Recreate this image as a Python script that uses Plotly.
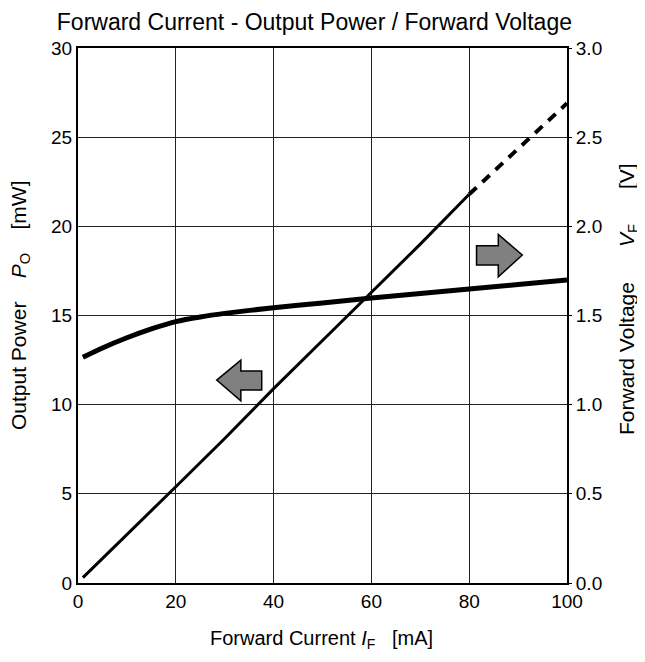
import plotly.graph_objects as go

# Data
current_solid = [1, 10, 20, 30, 40, 50, 60, 70, 80]
power_solid = [0.3, 2.7, 5.4, 8.1, 10.9, 13.6, 16.3, 19.0, 21.8]
current_dash = [80, 90, 100]
power_dash = [21.8, 24.35, 26.9]
current_v = [1, 5, 10, 15, 20, 25, 30, 40, 50, 60, 70, 80, 90, 100]
voltage = [1.266, 1.318, 1.375, 1.425, 1.466, 1.492, 1.512, 1.544, 1.570, 1.598, 1.624, 1.649, 1.674, 1.699]

x_ticks = [0, 20, 40, 60, 80, 100]
y_ticks = [0, 5, 10, 15, 20, 25, 30]
y2_ticks = [0.0, 0.5, 1.0, 1.5, 2.0, 2.5, 3.0]

FONT = "Liberation Sans, Arial, sans-serif"
SP = "&nbsp;"

fig = go.Figure()
fig.add_trace(go.Scatter(x=current_solid, y=power_solid, mode="lines",
                         line=dict(color="black", width=3), showlegend=False))
fig.add_trace(go.Scatter(x=current_dash, y=power_dash, mode="lines",
                         line=dict(color="black", width=4, dash="10px,8px"), showlegend=False))
fig.add_trace(go.Scatter(x=current_v, y=voltage, mode="lines", yaxis="y2",
                         line=dict(color="black", width=5, shape="spline", smoothing=0.6),
                         showlegend=False))

# Arrows (annotation shapes)
left_arrow = "M 28.36 11.38 L 33.3 12.5 L 33.3 11.89 L 37.57 11.89 L 37.57 10.82 L 33.3 10.82 L 33.3 10.21 Z"
right_arrow = "M 90.86 18.39 L 85.95 19.55 L 85.95 18.91 L 81.5 18.91 L 81.5 17.83 L 85.95 17.83 L 85.95 17.17 Z"
for p in (left_arrow, right_arrow):
    fig.add_shape(type="path", path=p, xref="x", yref="y",
                  fillcolor="#808080", line=dict(color="black", width=1.5))

# Axis titles as annotations
fig.add_annotation(text="Forward Current" + SP + "<i>I</i><sub>F</sub>" + SP * 3 + "[mA]",
                   xref="paper", yref="paper", x=0.497, y=-0.1065,
                   xanchor="center", yanchor="middle", showarrow=False,
                   font=dict(family=FONT, size=20, color="black"))
fig.add_annotation(text="Output Power" + SP * 4 + "<i>P</i><sub>O</sub>" + SP * 4 + "[mW]",
                   xref="paper", yref="paper", x=-0.1186, y=0.5196, textangle=-90,
                   xanchor="center", yanchor="middle", showarrow=False,
                   font=dict(family=FONT, size=21, color="black"))
fig.add_annotation(text="Forward Voltage" + SP * 6 + "<i>V</i><sub>F</sub>" + SP * 6 + "[V]",
                   xref="paper", yref="paper", x=1.1247, y=0.5308, textangle=-90,
                   xanchor="center", yanchor="middle", showarrow=False,
                   font=dict(family=FONT, size=21, color="black"))

fig.update_layout(
    width=637, height=654,
    margin=dict(l=70, r=78, t=40, b=79, autoexpand=False),
    paper_bgcolor="white", plot_bgcolor="white",
    font=dict(family=FONT, size=19, color="black"),
    title=dict(text="Forward Current - Output Power" + SP + "/" + SP + "Forward Voltage",
               x=0.481, xanchor="center", y=0.9786, yanchor="middle", automargin=False,
               font=dict(family=FONT, size=23, color="black")),
    xaxis=dict(range=[0, 100], tickvals=x_ticks, ticktext=[str(v) for v in x_ticks],
               showgrid=True, gridcolor="#222222", gridwidth=1,
               showline=True, linecolor="black", linewidth=2, mirror=True,
               ticks="", zeroline=False, automargin=False,
               tickfont=dict(size=19)),
    yaxis=dict(range=[0, 30], tickvals=y_ticks, ticktext=[str(v) for v in y_ticks],
               showgrid=True, gridcolor="#222222", gridwidth=1,
               showline=True, linecolor="black", linewidth=2, mirror=True,
               ticks="", zeroline=False, automargin=False,
               tickfont=dict(size=19)),
    yaxis2=dict(range=[0, 3], overlaying="y", side="right",
                tickvals=y2_ticks, ticktext=[f"{v:.1f}" for v in y2_ticks],
                showgrid=False, showline=False, ticks="outside", ticklen=4,
                tickcolor="black", zeroline=False, automargin=False,
                tickfont=dict(size=19)),
)

fig.write_html("out.html")
